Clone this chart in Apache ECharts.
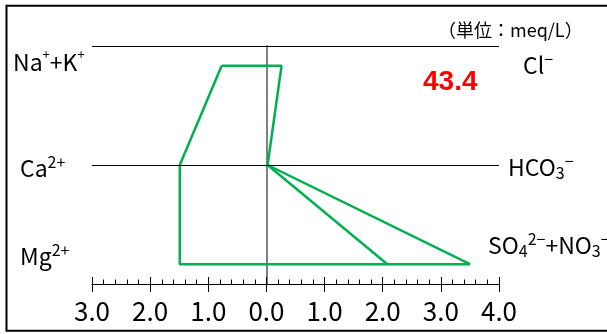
<!DOCTYPE html>
<html>
<head>
<meta charset="utf-8">
<script src="https://cdn.jsdelivr.net/npm/echarts@6/dist/echarts.min.js"></script>
<style>
html,body{margin:0;padding:0;background:#fff;}
#chart{width:607px;height:334px;}
</style>
</head>
<body>
<div id="chart"></div>
<script>
// ---- data (meq/L) ----
const rowLevels = [2, 1, 0];                 // Na+K / Cl row, Ca / HCO3 row, Mg / SO4+NO3 row
const cationValues = [0.77, 1.49, 1.49];     // Na++K+, Ca2+, Mg2+ (plotted to the left)
const anionValues = [0.26, 0.02, 3.50];      // Cl-, HCO3-, SO4 2- + NO3-
const so4OnlyValue = 2.08;                   // inner line to lower row
const guideRows = [2.2, 1];                  // black horizontal guide lines
const xTicks = [-3, -2, -1, 0, 1, 2, 3, 4];
const totalLabel = '43.4';
const unitLabel = '（単位：meq/L）';

const polygon = [
  [-cationValues[0], rowLevels[0]],
  [anionValues[0], rowLevels[0]],
  [anionValues[1], rowLevels[1]],
  [anionValues[2], rowLevels[2]],
  [-cationValues[2], rowLevels[2]],
  [-cationValues[1], rowLevels[1]],
  [-cationValues[0], rowLevels[0]]
];
const innerLine = [
  [anionValues[1], rowLevels[1]],
  [so4OnlyValue, rowLevels[2]]
];

const labelFont = "'Noto Sans CJK JP', sans-serif";
const rich = {
  m: {fontSize: 23, fontFamily: labelFont, color: '#000', lineHeight: 28, verticalAlign: 'middle'},
  p: {fontSize: 13, fontFamily: labelFont, color: '#000', lineHeight: 13, verticalAlign: 'top'},
  s: {fontSize: 16, fontFamily: labelFont, color: '#000', lineHeight: 16, verticalAlign: 'top'},
  d: {fontSize: 16, fontFamily: labelFont, color: '#000', lineHeight: 16, verticalAlign: 'bottom'}
};
function txt(x, y, text) {
  return {type: 'text', x: x, y: y, style: {text: text, rich: rich, verticalAlign: 'middle', align: 'left'}, silent: true};
}

const chart = echarts.init(document.getElementById('chart'));
chart.setOption({
  animation: false,
  backgroundColor: '#fff',
  grid: {left: 92, right: 108, top: 46, bottom: 50, containLabel: false},
  xAxis: [{
    type: 'value', min: xTicks[0], max: xTicks[xTicks.length - 1], interval: 1, position: 'bottom',
    axisLine: {show: true, onZero: false, lineStyle: {color: '#000', width: 1}},
    axisTick: {show: true, inside: true, length: 7, lineStyle: {color: '#000', width: 1}},
    minorTick: {show: true, splitNumber: 5, length: 4.5, lineStyle: {color: '#000', width: 1}},
    splitLine: {show: false}, minorSplitLine: {show: false},
    axisLabel: {
      margin: 14, color: '#000', fontSize: 26, fontFamily: "'Noto Sans CJK JP', sans-serif",
      formatter: v => Math.abs(v).toFixed(1)
    }
  }, {
    type: 'value', min: xTicks[0], max: xTicks[xTicks.length - 1], interval: 1, position: 'bottom',
    axisLine: {show: false, onZero: false},
    axisTick: {show: true, inside: false, length: 8, lineStyle: {color: '#000', width: 1}},
    splitLine: {show: false},
    axisLabel: {show: false}
  }],
  yAxis: {
    type: 'value', min: -0.2, max: 2.2,
    axisLine: {show: true, onZero: true, onZeroAxisIndex: 0, lineStyle: {color: '#808080', width: 2}},
    axisTick: {show: false}, axisLabel: {show: false}, splitLine: {show: false}
  },
  series: [{
    type: 'line', xAxisIndex: 0, data: polygon, symbol: 'none', silent: true,
    lineStyle: {color: '#00B050', width: 2.5},
    markLine: {
      silent: true, symbol: 'none', label: {show: false},
      lineStyle: {color: '#000', width: 1, type: 'solid'},
      data: guideRows.map(v => ({yAxis: v}))
    },
    z: 3
  }, {
    type: 'line', xAxisIndex: 0, data: innerLine, symbol: 'none', silent: true,
    lineStyle: {color: '#00B050', width: 2.5}, z: 3
  }],
  graphic: [
    {type: 'rect', shape: {x: 6.5, y: 5.8, width: 640, height: 325}, style: {fill: 'none', stroke: '#000', lineWidth: 2}, silent: true},
    {type: 'text', x: 438, y: 30, style: {text: unitLabel, font: "18px 'Noto Sans CJK JP'", fill: '#000', verticalAlign: 'middle'}, silent: true},
    {type: 'text', x: 423, y: 82, style: {text: totalLabel, font: "bold 28px 'Liberation Sans', Arial, sans-serif", fill: '#FF0000', verticalAlign: 'middle'}, silent: true},
    txt(13, 62, '{m|Na}{p|+}{m|+K}{p|+}'),
    txt(20, 168, '{m|Ca}{s|2+}'),
    txt(20, 256, '{m|Mg}{s|2+}'),
    txt(523, 65, '{m|Cl}{s|−}'),
    txt(508, 167, '{m|HCO}{d|3}{s|−}'),
    txt(488, 245, '{m|SO}{d|4}{s|2−}{m|+NO}{d|3}{s|−}')
  ]
});
</script>
</body>
</html>
